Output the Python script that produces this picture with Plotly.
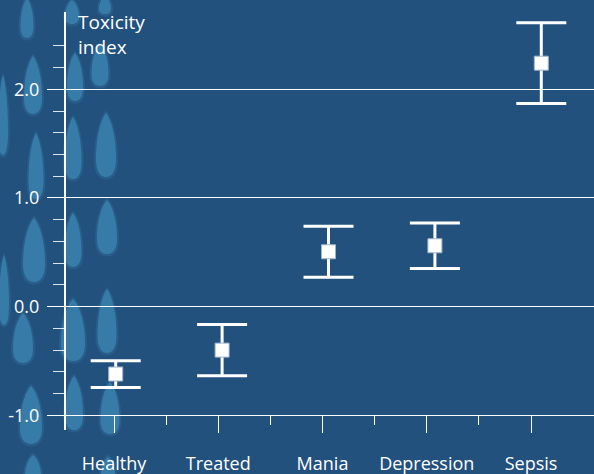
import plotly.graph_objects as go

# ---- data ----
categories = ["Healthy", "Treated", "Mania", "Depression", "Sepsis"]
toxicity = [-0.62, -0.40, 0.505, 0.56, 2.24]
spread = [0.123, 0.235, 0.235, 0.21, 0.372]
y_ticks = [-1.0, 0.0, 1.0, 2.0]
y_tick_labels = ["-1.0", "0.0", "1.0", "2.0"]
y_minor_ticks = [-0.8, -0.6, -0.4, -0.2, 0.2, 0.4, 0.6, 0.8,
                 1.2, 1.4, 1.6, 1.8, 2.2, 2.4]

# ---- canvas geometry ----
W, H = 594, 474
ML, MR, MT, MB = 48, 0, 12, 44
PW, PH = W - ML - MR, H - MT - MB

BG = "#23517e"
LEAF = "rgba(72,158,203,0.48)"
LEAF_SOFT = "rgba(72,158,203,0.16)"


def px(x, y):
    """pixel position -> paper coordinates"""
    return (x - ML) / PW, (H - MB - y) / PH


def leaf_path(cx, cy, w, h):
    pts = [
        ("M", [(cx, cy - h / 2)]),
        ("C", [(cx + w * 0.30, cy - h * 0.38), (cx + w / 2, cy - h * 0.10), (cx + w / 2, cy + h * 0.22)]),
        ("C", [(cx + w / 2, cy + h * 0.42), (cx + w * 0.28, cy + h / 2), (cx, cy + h / 2)]),
        ("C", [(cx - w * 0.28, cy + h / 2), (cx - w / 2, cy + h * 0.42), (cx - w / 2, cy + h * 0.22)]),
        ("C", [(cx - w / 2, cy - h * 0.10), (cx - w * 0.30, cy - h * 0.38), (cx, cy - h / 2)]),
    ]
    out = []
    for cmd, coords in pts:
        out.append(cmd + " " + " ".join("%.5f,%.5f" % px(x, y) for x, y in coords))
    return " ".join(out) + " Z"


# decorative leaves in the background (cx, cy, w, h)
leaves = [
    (27, 18, 13, 40), (33, 85, 18, 58), (36, 166, 15, 66), (34, 250, 22, 64),
    (23, 338, 20, 50), (31, 415, 22, 58), (3, 115, 10, 80), (4, 290, 10, 70),
    (75, 77, 16, 48), (73, 148, 17, 62), (73, 240, 17, 54), (73, 330, 24, 62),
    (74, 403, 18, 54), (100, 65, 17, 42), (106, 145, 20, 64), (107, 227, 20, 54),
    (107, 321, 19, 64), (110, 408, 19, 52), (72, 12, 14, 24), (105, 5, 12, 18),
    (33, 470, 16, 30), (108, 470, 14, 26),
]

shapes = []
for cx, cy, w, h in leaves:
    shapes.append(dict(type="path", xref="paper", yref="paper", layer="below",
                       path=leaf_path(cx, cy, w + 4, h + 5), fillcolor=LEAF_SOFT,
                       line=dict(width=0)))
    shapes.append(dict(type="path", xref="paper", yref="paper", layer="below",
                       path=leaf_path(cx, cy, w, h), fillcolor=LEAF,
                       line=dict(width=0)))

fig = go.Figure()

# keeps the tick axis subplot alive
fig.add_trace(go.Scatter(x=[], y=[], xaxis="x", yaxis="y", showlegend=False))

fig.add_trace(go.Scatter(
    x=list(range(len(categories))), y=toxicity, xaxis="x2", yaxis="y",
    mode="markers", showlegend=False,
    marker=dict(symbol="square", size=14, color="white",
                line=dict(color="#9db4c9", width=1)),
    error_y=dict(type="data", array=spread, color="white", thickness=3, width=25),
))

fig.update_layout(
    width=W, height=H,
    margin=dict(l=ML, r=MR, t=MT, b=MB, pad=0),
    paper_bgcolor=BG, plot_bgcolor="rgba(0,0,0,0)",
    font=dict(family="Open Sans", color="white"),
    shapes=shapes,
    xaxis=dict(
        range=[(ML - 114) / 104.25, (W - 114) / 104.25],
        anchor="free", position=(H - MB - 415.3) / PH,
        tickvals=list(range(len(categories))), ticktext=categories,
        ticks="outside", ticklen=17, tickwidth=1, tickcolor="white",
        minor=dict(tickvals=[0.5, 1.5, 2.5, 3.5], ticks="outside", ticklen=9,
                   tickwidth=1, tickcolor="white", showgrid=False),
        showgrid=False, zeroline=False, showline=False,
        ticklabelstandoff=15,
        tickfont=dict(size=18, color="white", weight=500),
    ),
    xaxis2=dict(
        range=[(ML - 115.7) / 106.4, (W - 115.7) / 106.4],
        overlaying="x", anchor="y", visible=False,
    ),
    yaxis=dict(
        range=[-1.135, 2.711],
        anchor="free", position=(65 - ML) / PW,
        tickvals=y_ticks, ticktext=y_tick_labels,
        ticks="outside", ticklen=17, tickwidth=1, tickcolor="white",
        minor=dict(tickvals=y_minor_ticks, ticks="outside", ticklen=11,
                   tickwidth=1, tickcolor="rgba(255,255,255,0.85)", showgrid=False),
        showgrid=True, gridcolor="white", gridwidth=1,
        zeroline=False, showline=True, linecolor="white", linewidth=2,
        ticklabelstandoff=4,
        tickfont=dict(size=18, color="white", weight=500),
    ),
    annotations=[dict(
        text="Toxicity<br>index", xref="paper", yref="paper",
        x=px(76, 0)[0], y=px(0, 7)[1], xanchor="left", yanchor="top",
        align="left", showarrow=False,
        font=dict(family="Open Sans", size=19, color="white", weight=500),
    )],
)

fig.write_html("out.html")
